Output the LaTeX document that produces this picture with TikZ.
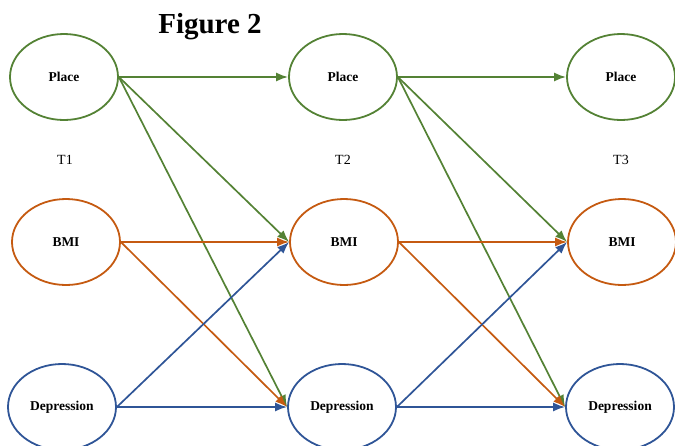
\documentclass[tikz,border=0pt]{standalone}
\usepackage{fontspec}
\setmainfont{Liberation Serif}
\usetikzlibrary{shapes.geometric,arrows.meta}
\definecolor{placegreen}{RGB}{84,130,53}
\definecolor{bmiorange}{RGB}{197,90,17}
\definecolor{depblue}{RGB}{47,85,151}
\tikzset{
  var/.style={ellipse,line width=1.8pt,minimum width=108pt,minimum height=86pt,
    inner sep=0pt,font=\bfseries\fontsize{13.5}{15}\selectfont},
  placevar/.style={var,draw=placegreen},
  bmivar/.style={var,draw=bmiorange},
  depvar/.style={var,draw=depblue},
  wave/.style={font=\fontsize{14}{16}\selectfont}
}
\begin{document}
\begin{tikzpicture}[x=1pt,y=-1pt]
      \useasboundingbox (0,0) rectangle (675,445);
      \draw
        (210,33) node[anchor=base,font=\bfseries\fontsize{29}{32}\selectfont] (title){Figure 2}
        (64,77) node[placevar] (p1){Place}
        (343,77) node[placevar] (p2){Place}
        (621,77) node[placevar] (p3){Place}
        (65,160) node[wave] (t1){T1}
        (343,160) node[wave] (t2){T2}
        (621,160) node[wave] (t3){T3}
        (66,242) node[bmivar] (b1){BMI}
        (344,242) node[bmivar] (b2){BMI}
        (622,242) node[bmivar] (b3){BMI}
        (62,407) node[depvar] (d1){Depression}
        (342,407) node[depvar] (d2){Depression}
        (620,407) node[depvar] (d3){Depression};
      \begin{scope}[-{Latex[length=12pt,width=9pt]},line width=1.7pt]
        \draw[placegreen] (p1.east) to (p2.west);
        \draw[placegreen] (p1.east) to (b2.west);
        \draw[placegreen] (p1.east) to (d2.west);
        \draw[bmiorange] (b1.east) to (b2.west);
        \draw[bmiorange] (b1.east) to (d2.west);
        \draw[depblue] (d1.east) to (b2.west);
        \draw[depblue] (d1.east) to (d2.west);
        \draw[placegreen] (p2.east) to (p3.west);
        \draw[placegreen] (p2.east) to (b3.west);
        \draw[placegreen] (p2.east) to (d3.west);
        \draw[bmiorange] (b2.east) to (b3.west);
        \draw[bmiorange] (b2.east) to (d3.west);
        \draw[depblue] (d2.east) to (b3.west);
        \draw[depblue] (d2.east) to (d3.west);
      \end{scope}
    \end{tikzpicture}
\end{document}
